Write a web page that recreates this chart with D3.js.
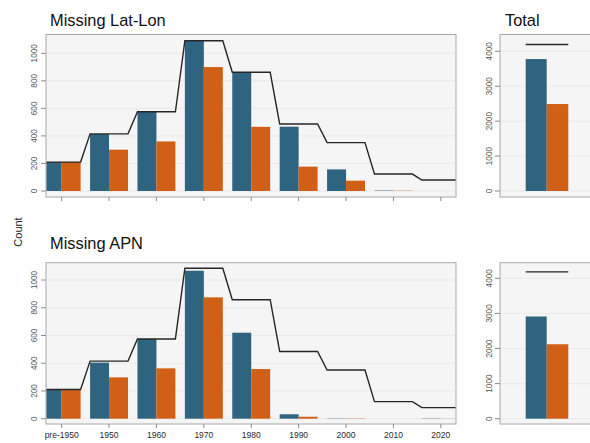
<!DOCTYPE html>
<meta charset="utf-8">
<style>
body { margin: 0; background: #fff; }
text { font-family: "Liberation Sans", Arial, sans-serif; }
.title { font-size: 16.4px; fill: #111; }
.ylab { font-size: 8.2px; fill: #555; }
.xlab { font-size: 8.5px; fill: #2a2a2a; }
.frame { fill: #f5f5f5; stroke: #a8a8a8; stroke-width: 1; }
.grid { stroke: #e6e6e6; stroke-width: 0.8; }
.tick { stroke: #8a8a8a; stroke-width: 1; }
.line { fill: none; stroke: #262626; stroke-width: 1.4px; }
</style>
<body>
<script src="https://d3js.org/d3.v7.min.js"></script>
<script>

    // decades on the x axis (pre-1950 sits at 1940)
    let decades = [1940, 1950, 1960, 1970, 1980, 1990, 2000, 2010, 2020];
    let decadeLabels = ["pre-1950", "1950", "1960", "1970", "1980", "1990", "2000", "2010", "2020"];

    // Missing Lat-Lon panel
    let latlonBlue   = [210, 414, 574, 1091, 862, 467, 157, 3, 0];
    let latlonOrange = [210, 300, 360, 900, 466, 177, 75, 2, 0];
    let latlonLine   = [210, 415, 575, 1091, 862, 487, 351, 123, 80];

    // Missing APN panel
    let apnBlue   = [210, 404, 575, 1067, 620, 32, 2, 0, 2];
    let apnOrange = [210, 298, 363, 875, 358, 14, 2, 0, 1];
    let apnLine   = [210, 415, 575, 1085, 858, 485, 351, 123, 80];

    let yTicks = [0, 200, 400, 600, 800, 1000];
    let totalTicks = [0, 1000, 2000, 3000, 4000];

    let colors = {blue: "#2f6480", orange: "#d15f15"};

    let svg = d3.select("body").append("svg")
        .attr("width", 590)
        .attr("height", 443);

    // "Count" shared y title
    svg.append("text")
        .attr("transform", "translate(18,232) rotate(-90)")
        .attr("text-anchor", "middle")
        .attr("dy", "0.35em")
        .style("font-size", "11px")
        .style("fill", "#222")
        .text("Count");

    function drawRow(opt) {
        let top = opt.top, bottom = opt.bottom, zero = opt.zero;

        // ---- decade panel ----
        let x = d3.scaleLinear().domain([1936.7, 2023.2]).range([46, 456]);
        let y = d3.scaleLinear().domain([0, 1000]).range([zero, opt.y1000]);

        svg.append("text").attr("class", "title")
            .attr("x", 50).attr("y", opt.titleY).text(opt.title);

        svg.append("rect").attr("class", "frame")
            .attr("x", 46).attr("y", top)
            .attr("width", 410).attr("height", bottom - top);

        let clipId = "clip" + opt.id;
        svg.append("clipPath").attr("id", clipId)
            .append("rect").attr("x", 46.5).attr("y", top)
            .attr("width", 409).attr("height", bottom - top);

        let g = svg.append("g").attr("clip-path", "url(#" + clipId + ")");

        g.selectAll(".grid").data(yTicks).enter().append("line")
            .attr("class", "grid")
            .attr("x1", 46).attr("x2", 456)
            .attr("y1", function (d) { return y(d); })
            .attr("y2", function (d) { return y(d); });

        // blue bars sit left of the decade, orange right
        g.selectAll(".bb").data(decades).enter().append("rect")
            .attr("x", function (d) { return x(d - 4); })
            .attr("width", function (d) { return x(d) - x(d - 4); })
            .attr("y", function (d, i) { return y(opt.blue[i]); })
            .attr("height", function (d, i) { return zero - y(opt.blue[i]); })
            .attr("fill", colors.blue);

        g.selectAll(".ob").data(decades).enter().append("rect")
            .attr("x", function (d) { return x(d); })
            .attr("width", function (d) { return x(d + 4) - x(d); })
            .attr("y", function (d, i) { return y(opt.orange[i]); })
            .attr("height", function (d, i) { return zero - y(opt.orange[i]); })
            .attr("fill", colors.orange);

        // step line of all records
        let pts = [];
        decades.forEach(function (d, i) {
            pts.push([d - 4, opt.line[i]]);
            pts.push([d + 4, opt.line[i]]);
        });
        pts[0][0] = 1930;
        pts[pts.length - 1][0] = 2030;
        g.append("path").datum(pts).attr("class", "line")
            .attr("d", d3.line()
                .x(function (p) { return x(p[0]); })
                .y(function (p) { return y(p[1]); }));

        // y ticks + labels
        svg.selectAll(".yt" + opt.id).data(yTicks).enter().append("line")
            .attr("class", "tick")
            .attr("x1", 41).attr("x2", 46)
            .attr("y1", function (d) { return y(d); })
            .attr("y2", function (d) { return y(d); });
        svg.selectAll(".yl" + opt.id).data(yTicks).enter().append("text")
            .attr("class", "ylab")
            .attr("text-anchor", "middle")
            .attr("dy", "0.35em")
            .attr("transform", function (d) { return "translate(34," + y(d) + ") rotate(-90)"; })
            .text(function (d) { return d; });

        // x ticks
        svg.selectAll(".xt" + opt.id).data(decades).enter().append("line")
            .attr("class", "tick")
            .attr("x1", function (d) { return x(d); })
            .attr("x2", function (d) { return x(d); })
            .attr("y1", bottom).attr("y2", bottom + 4);
        if (opt.labels) {
            svg.selectAll(".xl" + opt.id).data(decades).enter().append("text")
                .attr("class", "xlab")
                .attr("text-anchor", "middle")
                .attr("x", function (d) { return x(d); })
                .attr("y", bottom + 14)
                .text(function (d, i) { return decadeLabels[i]; });
        }

        // ---- total panel ----
        let tx = d3.scaleLinear().domain([0, 100]).range([500, 600]);
        let ty = d3.scaleLinear().domain([0, 4000]).range([zero, opt.y4000]);
        let totBlue = d3.sum(opt.blue), totOrange = d3.sum(opt.orange), totLine = d3.sum(opt.line);

        if (opt.totalTitle) {
            svg.append("text").attr("class", "title")
                .attr("x", 505).attr("y", opt.titleY).text("Total");
        }

        svg.append("rect").attr("class", "frame")
            .attr("x", 500).attr("y", top)
            .attr("width", 120).attr("height", bottom - top);

        svg.selectAll(".tg" + opt.id).data(totalTicks).enter().append("line")
            .attr("class", "grid")
            .attr("x1", 500.5).attr("x2", 620)
            .attr("y1", function (d) { return ty(d); })
            .attr("y2", function (d) { return ty(d); });

        svg.append("rect")
            .attr("x", tx(25.7)).attr("width", tx(46.7) - tx(25.7))
            .attr("y", ty(totBlue)).attr("height", zero - ty(totBlue))
            .attr("fill", colors.blue);
        svg.append("rect")
            .attr("x", tx(46.7)).attr("width", tx(68.3) - tx(46.7))
            .attr("y", ty(totOrange)).attr("height", zero - ty(totOrange))
            .attr("fill", colors.orange);
        svg.append("line").attr("class", "line")
            .attr("x1", tx(25.7)).attr("x2", tx(68.3))
            .attr("y1", ty(totLine)).attr("y2", ty(totLine));

        svg.selectAll(".tt" + opt.id).data(totalTicks).enter().append("line")
            .attr("class", "tick")
            .attr("x1", 495).attr("x2", 500)
            .attr("y1", function (d) { return ty(d); })
            .attr("y2", function (d) { return ty(d); });
        svg.selectAll(".tl" + opt.id).data(totalTicks).enter().append("text")
            .attr("class", "ylab")
            .attr("text-anchor", "middle")
            .attr("dy", "0.35em")
            .attr("transform", function (d) { return "translate(489," + ty(d) + ") rotate(-90)"; })
            .text(function (d) { return d; });
    }

    drawRow({id: "a", title: "Missing Lat-Lon", titleY: 25.5, totalTitle: true,
        top: 34.5, bottom: 197, zero: 191, y1000: 53.3, y4000: 51.3,
        blue: latlonBlue, orange: latlonOrange, line: latlonLine, labels: false});

    drawRow({id: "b", title: "Missing APN", titleY: 248.5, totalTitle: false,
        top: 262.7, bottom: 424, zero: 418.7, y1000: 280, y4000: 278.3,
        blue: apnBlue, orange: apnOrange, line: apnLine, labels: true});

</script>
</body>
